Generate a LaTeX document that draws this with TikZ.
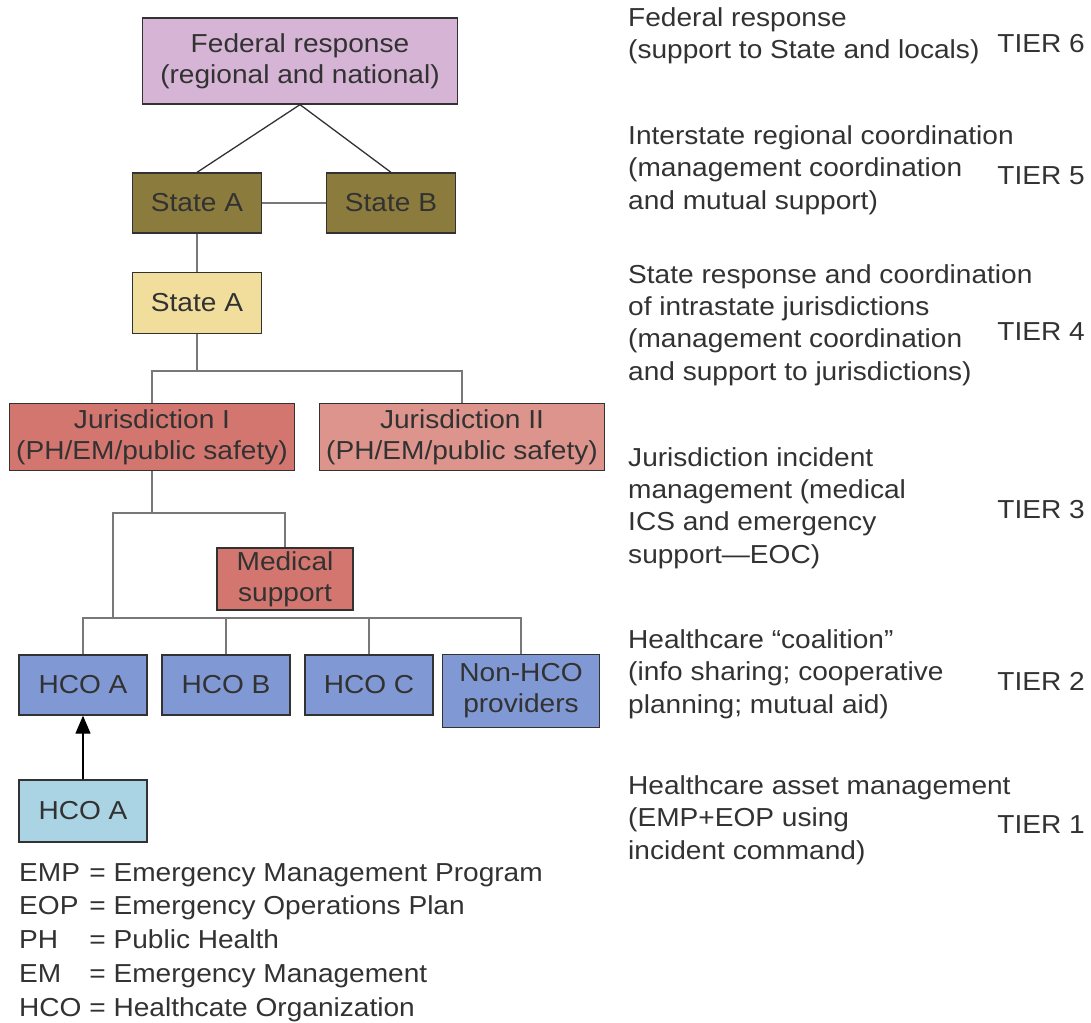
\documentclass[tikz,border=0pt]{standalone}
\usepackage{fontspec}
\setmainfont[FakeStretch=1.08]{Liberation Sans}
\usepackage{tikz}
\usetikzlibrary{arrows.meta, positioning, calc}
\definecolor{FedPink}{RGB}{214,180,214}
\definecolor{StateOlive}{RGB}{139,124,62}
\definecolor{StateYellow}{RGB}{242,222,156}
\definecolor{JurRed}{RGB}{212,118,112}
\definecolor{JurRose}{RGB}{221,148,140}
\definecolor{HcoBlue}{RGB}{128,152,212}
\definecolor{HcoLight}{RGB}{170,212,228}
\definecolor{InkGray}{RGB}{50,50,50}
\definecolor{LineGray}{RGB}{120,120,120}

\begin{document}
\begin{tikzpicture}[x=1pt, y=-1pt,
  box/.style={draw=InkGray, line width=1.3pt, align=center, inner sep=0pt,
              font=\fontsize{26}{31}\selectfont\color{InkGray}},
  tiertext/.style={anchor=west, align=left, inner sep=0pt,
              font=\fontsize{26}{32.3}\selectfont\color{InkGray}},
  tierlabel/.style={anchor=east, inner sep=0pt,
              font=\fontsize{26}{32}\selectfont\color{InkGray}},
  link/.style={draw=LineGray, line width=1.5pt},
  darklink/.style={draw=InkGray, line width=1.3pt}]
\useasboundingbox (0,0) rectangle (1091,1022);

% boxes of the left tree
\node[box, fill=FedPink, minimum width=315pt, minimum height=86pt] (fed) at (300,61)
  {Federal response\\(regional and national)};
\node[box, fill=StateOlive, minimum width=129pt, minimum height=60pt] (sa) at (197,203) {State A};
\node[box, fill=StateOlive, minimum width=129pt, minimum height=60pt] (sb) at (391,203) {State B};
\node[box, fill=StateYellow, minimum width=129pt, minimum height=61pt] (sy) at (197,303) {State A};
\node[box, fill=JurRed, minimum width=285pt, minimum height=67pt] (j1) at (152,437)
  {Jurisdiction I\\(PH/EM/public safety)};
\node[box, fill=JurRose, minimum width=285pt, minimum height=67pt] (j2) at (462,437)
  {Jurisdiction II\\(PH/EM/public safety)};
\node[box, fill=JurRed, minimum width=136pt, minimum height=62pt] (med) at (285,579)
  {Medical\\support};
\node[box, fill=HcoBlue, minimum width=128pt, minimum height=60pt] (hA) at (83,685) {HCO A};
\node[box, fill=HcoBlue, minimum width=128pt, minimum height=60pt] (hB) at (226,685) {HCO B};
\node[box, fill=HcoBlue, minimum width=128pt, minimum height=60pt] (hC) at (369,685) {HCO C};
\node[box, fill=HcoBlue, minimum width=157pt, minimum height=73pt] (hN) at (521,691)
  {Non-HCO\\providers};
\node[box, fill=HcoLight, minimum width=128pt, minimum height=62pt] (hA2) at (83,811) {HCO A};

% connectors
\draw[darklink] (fed.south) -- (sa.north);
\draw[darklink] (fed.south) -- (sb.north);
\draw[link] (sa) -- (sb);
\draw[link] (sa) -- (sy);
\draw[link] (sy.south) -- ++(0,37) -| (j1.north);
\draw[link] (sy.south) -- ++(0,37) -| (j2.north);
\coordinate (busH) at (113,618);
\draw[link] (j1.south) -- ++(0,42) -| (med.north);
\draw[link] (j1.south) -- ++(0,42) -| (busH);
\draw[link] (hA.north) -- (hA.north |- busH) -- (hN.north |- busH) -- (hN.north);
\draw[link] (hB.north) -- (hB.north |- busH);
\draw[link] (hC.north) -- (hC.north |- busH);
\draw[darklink, -{Triangle[length=18pt, width=15pt]}, black] (hA2.north) -- (hA.south);

% legend
\node[anchor=west, inner sep=0pt, font=\fontsize{26}{33.8}\selectfont\color{InkGray}]
  (legend) at (19,942) {%
  \begin{tabular}{@{}l@{\ }l@{}}
  EMP & = Emergency Management Program\\
  EOP & = Emergency Operations Plan\\
  PH  & = Public Health\\
  EM  & = Emergency Management\\
  HCO & = Healthcate Organization
  \end{tabular}};

% tiers on the right
\node[tiertext] (t6) at (628,36) {Federal response\\(support to State and locals)};
\node[tierlabel] (l6) at (1085,44) {TIER 6};
\node[tiertext] (t5) at (628,170) {Interstate regional coordination\\(management coordination\\and mutual support)};
\node[tierlabel] (l5) at (1085,176) {TIER 5};
\node[tiertext] (t4) at (628,325) {State response and coordination\\of intrastate jurisdictions\\(management coordination\\and support to jurisdictions)};
\node[tierlabel] (l4) at (1085,332) {TIER 4};
\node[tiertext] (t3) at (628,508) {Jurisdiction incident\\management (medical\\ICS and emergency\\support---EOC)};
\node[tierlabel] (l3) at (1085,510) {TIER 3};
\node[tiertext] (t2) at (628,674) {Healthcare ``coalition''\\(info sharing; cooperative\\planning; mutual aid)};
\node[tierlabel] (l2) at (1085,681) {TIER 2};
\node[tiertext] (t1) at (628,820) {Healthcare asset management\\(EMP+EOP using\\incident command)};
\node[tierlabel] (l1) at (1085,825) {TIER 1};
\end{tikzpicture}
\end{document}
